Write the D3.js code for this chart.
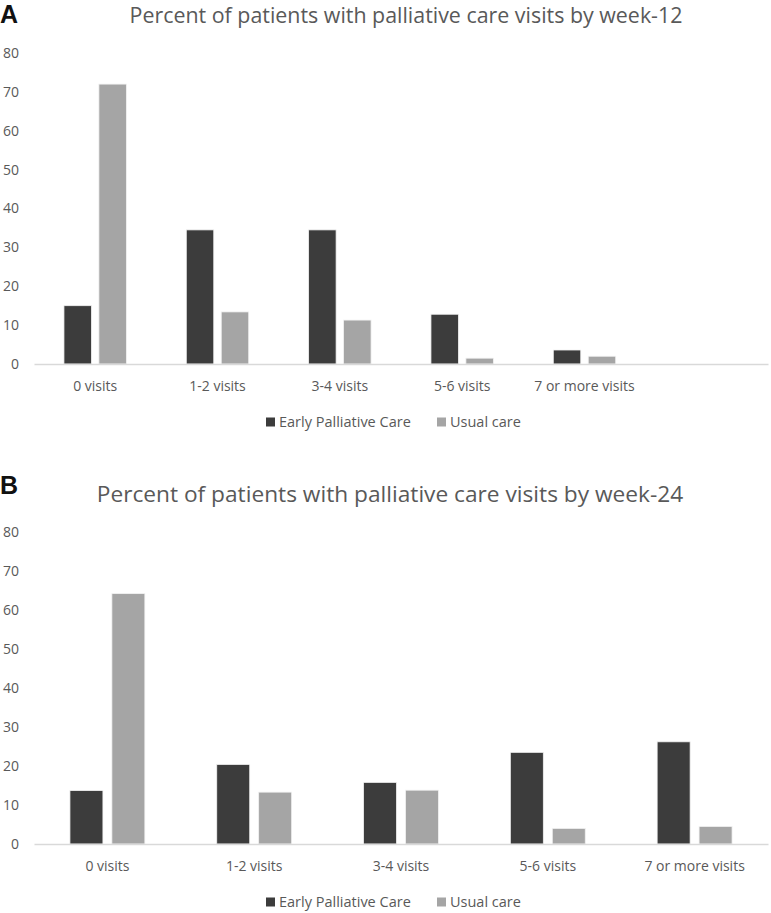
<!DOCTYPE html>
<html>
<head>
<meta charset="utf-8">
<script src="https://cdn.jsdelivr.net/npm/d3@7"></script>
<style>
  html, body { margin: 0; padding: 0; background: #fff; }
  svg text { font-family: "Open Sans", "Noto Sans", sans-serif; }
</style>
</head>
<body>
<svg id="chart" width="771" height="913"></svg>
<script>
// ---- data ----
const seriesNames = ["Early Palliative Care", "Usual care"];
const seriesColors = ["#3c3c3c", "#a5a5a5"];
const categories = ["0 visits", "1-2 visits", "3-4 visits", "5-6 visits", "7 or more visits"];
const yTicks = [0, 10, 20, 30, 40, 50, 60, 70, 80];

const titleA = "Percent of patients with palliative care visits by week-12";
const earlyA = [15.0, 34.5, 34.5, 12.8, 3.6];
const usualA = [72.0, 13.4, 11.3, 1.5, 2.0];

const titleB = "Percent of patients with palliative care visits by week-24";
const earlyB = [13.7, 20.4, 15.8, 23.5, 26.2];
const usualB = [64.2, 13.3, 13.8, 4.0, 4.5];

const svg = d3.select("#chart");

function drawPanel(cfg) {
  const g = svg.append("g");
  const domain = categories.concat(cfg.extraSlots);
  const x = d3.scaleBand().domain(domain).range([cfg.x0, cfg.x1]).paddingInner(0).paddingOuter(0);
  const y = d3.scaleLinear().domain([0, 80]).range([cfg.yBase, cfg.yTop]);
  const step = x.bandwidth();
  const xs = d3.scaleBand().domain(seriesNames)
    .range([step * 0.2448, step * 0.7552]).paddingInner(0.2135).paddingOuter(0);

  // panel letter
  g.append("text").attr("x", 0).attr("y", cfg.letterY)
    .style("font-family", "'Liberation Sans', Arial, sans-serif")
    .style("font-weight", "bold").style("font-size", cfg.letterSize + "px")
    .attr("fill", "#111").text(cfg.letter);

  // title
  g.append("text").attr("x", cfg.titleX).attr("y", cfg.titleY).attr("text-anchor", "middle")
    .style("font-size", cfg.titleSize + "px").attr("fill", "#595959").text(cfg.title);

  // y axis
  const yAxis = d3.axisLeft(y).tickValues(yTicks).tickSize(0).tickPadding(0);
  const ya = g.append("g").attr("transform", `translate(${cfg.yLabelX},0)`).call(yAxis);
  ya.select(".domain").remove();
  ya.selectAll("text").style("font-size", cfg.tickSize + "px").attr("fill", "#595959")
    .style("font-family", "'Open Sans', sans-serif");

  // bars
  const rows = categories.map((c, i) => ({ c, vals: [cfg.early[i], cfg.usual[i]] }));
  const grp = g.selectAll(".grp").data(rows).join("g")
    .attr("transform", d => `translate(${x(d.c)},0)`);
  grp.selectAll("rect").data(d => d.vals.map((v, k) => ({ v, s: seriesNames[k], k })))
    .join("rect")
    .attr("x", d => xs(d.s)).attr("width", xs.bandwidth())
    .attr("y", d => y(d.v)).attr("height", d => y(0) - y(d.v))
    .attr("fill", d => seriesColors[d.k]).attr("stroke", "#f2f2f2").attr("stroke-width", 0.8);

  // x axis
  const xAxis = d3.axisBottom(x).tickSize(0).tickPadding(0).tickFormat(d => d);
  const xa = g.append("g").attr("transform", `translate(0,${cfg.yBase})`).call(xAxis);
  xa.select(".domain").attr("stroke", "#d9d9d9").attr("stroke-width", 1.5);
  xa.selectAll("text").attr("dy", null).attr("y", cfg.catDy)
    .style("font-size", cfg.catSize + "px").attr("fill", "#595959")
    .style("font-family", "'Open Sans', sans-serif");

  // legend
  const lg = g.append("g").attr("transform", `translate(0,${cfg.legendY})`);
  const legendX = [266, 437];
  seriesNames.forEach((s, k) => {
    lg.append("rect").attr("x", legendX[k]).attr("y", -4.5).attr("width", 9).attr("height", 9)
      .attr("fill", seriesColors[k]);
    lg.append("text").attr("x", legendX[k] + 13).attr("y", 0).attr("dy", "0.35em")
      .style("font-size", cfg.legSize + "px").attr("fill", "#595959").text(s);
  });
}

drawPanel({
  letter: "A", letterY: 23, letterSize: 25,
  title: titleA, titleX: 406, titleY: 23, titleSize: 21.4,
  early: earlyA, usual: usualA, extraSlots: [" "],
  x0: 34, x1: 768, yBase: 364, yTop: 53, yLabelX: 19,
  tickSize: 14, catSize: 14, catDy: 27, legSize: 14.5, legendY: 422
});

drawPanel({
  letter: "B", letterY: 494, letterSize: 25,
  title: titleB, titleX: 390, titleY: 502, titleSize: 22.7,
  early: earlyB, usual: usualB, extraSlots: [],
  x0: 34, x1: 768, yBase: 844, yTop: 532, yLabelX: 19,
  tickSize: 14, catSize: 14, catDy: 27, legSize: 14.5, legendY: 902
});
</script>
</body>
</html>
